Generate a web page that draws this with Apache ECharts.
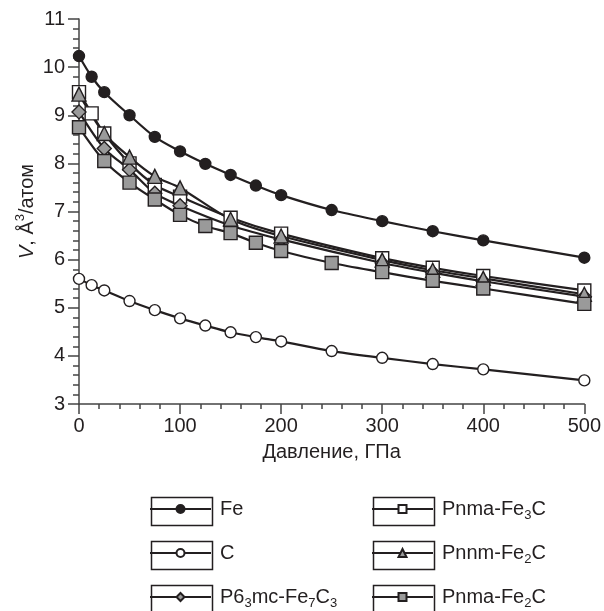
<!DOCTYPE html>
<html>
<head>
<meta charset="utf-8">
<script src="https://cdn.jsdelivr.net/npm/echarts@6/dist/echarts.min.js"></script>
<style>
  html, body { margin: 0; padding: 0; background: #fff; }
  #chart { width: 604px; height: 611px; }
</style>
</head>
<body>
<div id="chart"></div>
<script>
  // давление, ГПа / объём, Å^3/атом
  const feP = [0, 12.5, 25, 50, 75, 100, 125, 150, 175, 200, 250, 300, 350, 400, 500];
  const feV = [10.23, 9.80, 9.48, 9.00, 8.55, 8.25, 7.99, 7.76, 7.54, 7.34, 7.03, 6.80, 6.59, 6.40, 6.04];

  const cP = [0, 12.5, 25, 50, 75, 100, 125, 150, 175, 200, 250, 300, 350, 400, 500];
  const cV = [5.60, 5.47, 5.36, 5.14, 4.95, 4.78, 4.63, 4.49, 4.39, 4.30, 4.10, 3.96, 3.83, 3.72, 3.49];

  const fe3cP = [0, 12.5, 25, 50, 75, 100, 150, 200, 300, 350, 400, 500];
  const fe3cV = [9.48, 9.04, 8.62, 8.00, 7.55, 7.31, 6.87, 6.54, 6.03, 5.83, 5.66, 5.36];

  const fe7c3P = [0, 25, 50, 75, 100, 150, 200, 300, 350, 400, 500];
  const fe7c3V = [9.07, 8.31, 7.87, 7.38, 7.12, 6.71, 6.42, 5.93, 5.73, 5.55, 5.23];

  const pnnmP = [0, 25, 50, 75, 100, 150, 200, 300, 350, 400, 500];
  const pnnmV = [9.44, 8.62, 8.13, 7.73, 7.49, 6.84, 6.49, 5.99, 5.78, 5.61, 5.28];

  const pnmaP = [0, 25, 50, 75, 100, 125, 150, 175, 200, 250, 300, 350, 400, 500];
  const pnmaV = [8.75, 8.05, 7.60, 7.25, 6.93, 6.70, 6.55, 6.35, 6.18, 5.93, 5.74, 5.56, 5.40, 5.08];

  const xTicks = [0, 100, 200, 300, 400, 500];
  const yTicks = [3, 4, 5, 6, 7, 8, 9, 10, 11];

  // порядок в легенде: левый столбец, затем правый
  const legendLeft = ['Fe', 'C', 'P6{sub|3}mc-Fe{sub|7}C{sub|3}'];
  const legendRight = ['Pnma-Fe{sub|3}C', 'Pnnm-Fe{sub|2}C', 'Pnma-Fe{sub|2}C'];

  const ink = '#231f20';
  const grey = '#9a9a9a';
  const font = 'Liberation Sans, Arial, sans-serif';

  function pairs (xs, ys) {
    return xs.map((x, i) => [x, ys[i]]);
  }

  function makeSeries (name, xs, ys, symbol, size, fill) {
    return {
      name: name,
      type: 'line',
      data: pairs(xs, ys),
      smooth: 0.3,
      symbol: symbol,
      symbolSize: size,
      showAllSymbol: true,
      lineStyle: { color: ink, width: 2.2 },
      itemStyle: { color: fill, borderColor: ink, borderWidth: 1.4 },
      emphasis: { disabled: true },
      animation: false
    };
  }

  const chart = echarts.init(document.getElementById('chart'));

  const boxW = 61;
  const boxH = 28;
  const rowCenters = [509, 553, 597];
  const colLefts = [149, 371];

  const legends = [];
  const boxes = [];
  [legendLeft, legendRight].forEach((names, c) => {
    names.forEach((name, r) => {
      legends.push({
        left: colLefts[c],
        top: rowCenters[r] - 10,
        padding: 0,
        itemWidth: boxW,
        itemHeight: 10,
        data: [name],
        selectedMode: false,
        textStyle: {
          fontSize: 20,
          fontFamily: font,
          color: ink,
          lineHeight: 20,
          padding: [0, 0, 0, 4],
          rich: {
            // нижний индекс: смещаем вниз через высоту блока
            sub: { fontSize: 13, fontFamily: font, color: ink, height: 7, verticalAlign: 'bottom' }
          }
        }
      });
      boxes.push({
        type: 'rect',
        left: colLefts[c],
        top: rowCenters[r] - boxH / 2,
        shape: { width: boxW, height: boxH },
        style: { fill: 'none', stroke: ink, lineWidth: 1.5 },
        z: 0
      });
    });
  });

  chart.setOption({
    backgroundColor: '#fff',
    animation: false,
    grid: { left: 79, right: 19, top: 19, bottom: 207 },
    legend: legends,
    graphic: boxes,
    xAxis: {
      type: 'value',
      min: xTicks[0],
      max: xTicks[xTicks.length - 1],
      interval: 100,
      name: 'Давление, ГПа',
      nameLocation: 'middle',
      nameGap: 38,
      nameTextStyle: { fontSize: 20, fontFamily: font, color: ink },
      axisLine: { lineStyle: { color: '#444', width: 1.5 } },
      axisTick: { length: 10, lineStyle: { color: '#444', width: 1.5 } },
      minorTick: { show: true, splitNumber: 5, length: 5, lineStyle: { color: '#444', width: 1.5 } },
      axisLabel: { fontSize: 20, fontFamily: font, color: ink, margin: 12 },
      splitLine: { show: false }
    },
    yAxis: {
      type: 'value',
      min: yTicks[0],
      max: yTicks[yTicks.length - 1],
      interval: 1,
      name: '{i|V}, Å{sup|3}/атом',
      nameLocation: 'middle',
      nameGap: 42,
      nameMoveOverlap: false,
      nameTextStyle: {
        fontSize: 20,
        fontFamily: font,
        color: ink,
        lineHeight: 20,
        rich: {
          i: { fontSize: 20, fontFamily: font, fontStyle: 'italic', color: ink },
          sup: { fontSize: 13, fontFamily: font, color: ink, height: 7, verticalAlign: 'top' }
        }
      },
      axisLine: { show: true, lineStyle: { color: '#444', width: 1.5 } },
      axisTick: { show: true, length: 11, lineStyle: { color: '#444', width: 1.5 } },
      minorTick: { show: true, splitNumber: 5, length: 6, lineStyle: { color: '#444', width: 1.5 } },
      axisLabel: { fontSize: 20, fontFamily: font, color: ink, margin: 14 },
      splitLine: { show: false }
    },
    series: [
      makeSeries('Fe', feP, feV, 'circle', 11, ink),
      makeSeries('C', cP, cV, 'circle', 11, '#fff'),
      makeSeries('Pnma-Fe{sub|3}C', fe3cP, fe3cV, 'rect', 13, '#fff'),
      makeSeries('P6{sub|3}mc-Fe{sub|7}C{sub|3}', fe7c3P, fe7c3V, 'diamond', 14, grey),
      makeSeries('Pnnm-Fe{sub|2}C', pnnmP, pnnmV, 'triangle', 14, grey),
      makeSeries('Pnma-Fe{sub|2}C', pnmaP, pnmaV, 'rect', 13, grey)
    ]
  });
</script>
</body>
</html>
